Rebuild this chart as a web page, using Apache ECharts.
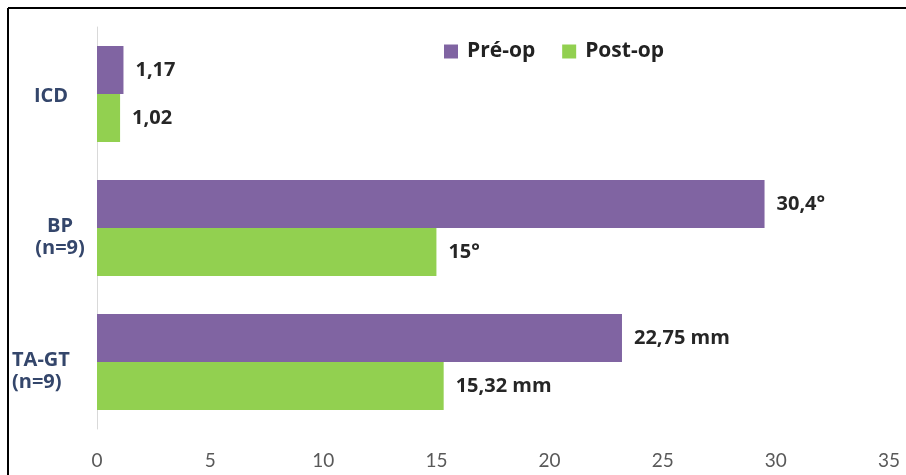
<!DOCTYPE html>
<html>
<head>
<meta charset="utf-8">
<script src="https://cdn.jsdelivr.net/npm/echarts@6/dist/echarts.min.js"></script>
<style>
html,body{margin:0;padding:0;background:#fff;}
#chart{width:906px;height:475px;}
</style>
</head>
<body>
<div id="chart"></div>
<script>
var categories = ['ICD', 'BP\n(n=9)', 'TA-GT\n(n=9)'];
var seriesNames = ['Pré-op', 'Post-op'];
// bar lengths as drawn in the picture
var preValues = [1.17, 29.5, 23.2];
var postValues = [1.02, 15, 15.32];
// printed value labels
var preLabels = ['1,17', '30,4°', '22,75 mm'];
var postLabels = ['1,02', '15°', '15,32 mm'];
var xTicks = [0, 5, 10, 15, 20, 25, 30, 35];

var chart = echarts.init(document.getElementById('chart'));
var valueLabelStyle = {
  show: true, position: 'right', distance: 12,
  fontFamily: 'Open Sans', fontWeight: 'bold', fontSize: 20, color: '#262626'
};
var catStyles = [
  { align: 'left', padding: [0, 0, 0, 22] },
  { align: 'center', padding: [0, 0, 0, 96] },
  { align: 'left', padding: [0, 0, 0, 0] }
];
chart.setOption({
  animation: false,
  backgroundColor: '#ffffff',
  legend: {
    data: seriesNames,
    top: 36, left: 439,
    itemWidth: 14, itemHeight: 14, itemGap: 27,
    icon: 'rect',
    textStyle: { fontFamily: 'Open Sans', fontWeight: 'bold', fontSize: 21, color: '#222', padding: [0, 0, 0, 4] }
  },
  grid: { left: 97, right: 17, top: 27, bottom: 46, containLabel: false, outerBoundsMode: 'none' },
  xAxis: {
    type: 'value', min: xTicks[0], max: xTicks[xTicks.length - 1], interval: 5,
    axisLine: { show: false }, axisTick: { show: false }, splitLine: { show: false },
    axisLabel: { margin: 22, fontFamily: 'Lato', fontSize: 19, color: '#595959' }
  },
  yAxis: {
    type: 'category', inverse: true,
    data: categories.map(function (c, i) { return { value: c, textStyle: catStyles[i] }; }),
    axisLine: { show: true, lineStyle: { color: '#d9d9d9', width: 1 } },
    axisTick: { show: false },
    axisLabel: {
      margin: 85, fontFamily: 'Open Sans', fontWeight: 'bold',
      fontSize: 20, lineHeight: 22, color: '#34466b',
      formatter: function (value) {
        var lines = String(value).split('\n');
        if (lines.length === 1) { return '{t|}\n{a|' + lines[0] + '}'; }
        return '{s|}\n' + lines.map(function (l) { return '{a|' + l + '}'; }).join('\n');
      },
      rich: {
        a: { fontFamily: 'Open Sans', fontWeight: 'bold', fontSize: 20, lineHeight: 22, color: '#34466b' },
        s: { fontSize: 10, lineHeight: 18 },
        t: { fontSize: 4, lineHeight: 4 }
      }
    }
  },
  series: [
    {
      name: seriesNames[0], type: 'bar', data: preValues, barWidth: 48, barGap: '0%',
      itemStyle: { color: '#8064a2' },
      label: Object.assign({}, valueLabelStyle, { formatter: function (p) { return preLabels[p.dataIndex]; } })
    },
    {
      name: seriesNames[1], type: 'bar', data: postValues, barWidth: 48, barGap: '0%',
      itemStyle: { color: '#92d050' },
      label: Object.assign({}, valueLabelStyle, { formatter: function (p) { return postLabels[p.dataIndex]; } })
    }
  ],
  graphic: [
    { type: 'line', shape: { x1: 8, y1: 8, x2: 906, y2: 8 }, style: { stroke: '#000', lineWidth: 2 } },
    { type: 'line', shape: { x1: 8, y1: 8, x2: 8, y2: 475 }, style: { stroke: '#000', lineWidth: 2 } }
  ]
});
</script>
</body>
</html>
